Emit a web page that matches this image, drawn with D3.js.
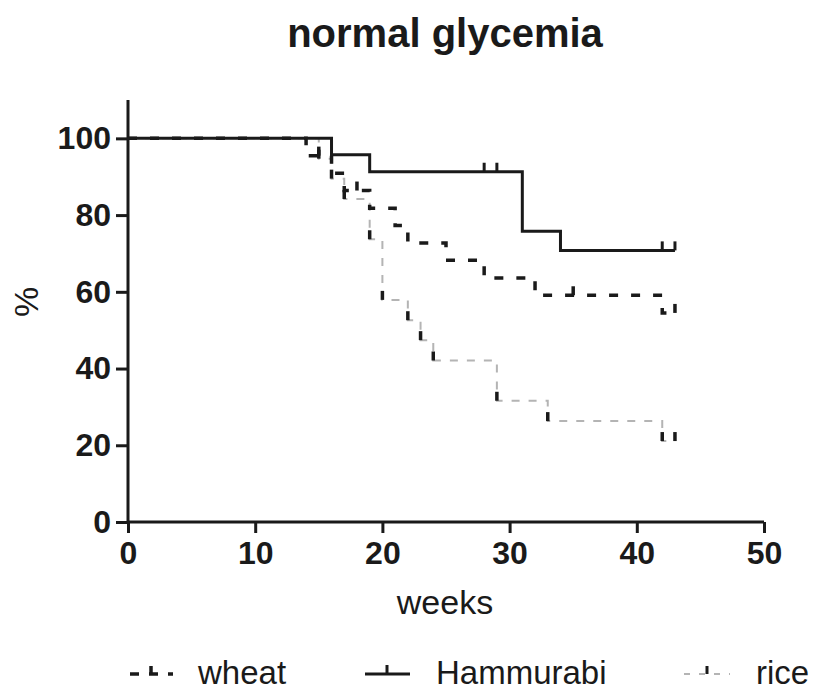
<!DOCTYPE html>
<html>
<head>
<meta charset="utf-8">
<script src="https://cdn.jsdelivr.net/npm/d3@7"></script>
<style>
  body { margin: 0; background: #fff; }
  text { font-family: "Liberation Sans", Arial, sans-serif; fill: #1a1a1a; }
</style>
</head>
<body>
<div id="chart"></div>
<script>
// Kaplan-Meier style data (weeks, % normal glycemia)
var wheatTimes = [0, 14, 16, 17, 19, 21, 22, 25, 28, 32, 42, 43];
var wheatSurv = [100, 95.5, 90.9, 86.4, 81.8, 77.3, 72.7, 68.2, 63.6, 59.1, 54.5, 54.5];
var wheatCensor = [15, 18, 35, 43];

var hamTimes = [0, 16, 19, 31, 34, 43];
var hamSurv = [100, 95.7, 91.3, 75.8, 70.8, 70.8];
var hamCensor = [28, 29, 42, 43];

var riceTimes = [0, 15, 16, 17, 19, 20, 22, 23, 24, 29, 33, 42, 43];
var riceSurv = [100, 94.7, 89.5, 84.2, 73.7, 57.9, 52.6, 47.4, 42.1, 31.6, 26.3, 21.1, 21.1];
var riceCensor = [43];

var xTicks = [0, 10, 20, 30, 40, 50];
var yTicks = [0, 20, 40, 60, 80, 100];

var Width = 813;
var Height = 690;

var svg = d3.select("#chart")
  .append("svg")
  .attr("width", Width)
  .attr("height", Height);

var x = d3.scaleLinear().domain([0, 50]).range([128, 764]);
var y = d3.scaleLinear().domain([0, 110]).range([522, 100]);

// title
svg.append("text")
  .attr("x", 445)
  .attr("y", 47)
  .attr("text-anchor", "middle")
  .attr("font-size", 40)
  .attr("font-weight", "bold")
  .text("normal glycemia");

// axes
var xAxis = d3.axisBottom(x).tickValues(xTicks).tickSize(11).tickPadding(8);
var yAxis = d3.axisLeft(y).tickValues(yTicks).tickSize(12).tickPadding(5);

var gx = svg.append("g")
  .attr("transform", "translate(0," + y(0) + ")")
  .call(xAxis);
var gy = svg.append("g")
  .attr("transform", "translate(" + x(0) + ",0)")
  .call(yAxis);

[gx, gy].forEach(function(g) {
  g.select(".domain").attr("stroke", "#1a1a1a").attr("stroke-width", 3);
  g.selectAll(".tick line").attr("stroke", "#1a1a1a").attr("stroke-width", 3);
  g.selectAll(".tick text")
    .attr("font-size", 32)
    .attr("font-weight", "bold")
    .attr("font-family", "Liberation Sans, Arial, sans-serif")
    .attr("fill", "#1a1a1a");
});
// plain axis lines, no outer ticks
gx.select(".domain").attr("d", "M" + x(0) + ",0H" + x(50));
gy.select(".domain").attr("d", "M0," + y(0) + "V" + y(110));

// axis titles
svg.append("text")
  .attr("x", 445)
  .attr("y", 614)
  .attr("text-anchor", "middle")
  .attr("font-size", 34)
  .text("weeks");

svg.append("text")
  .attr("transform", "translate(38,302) rotate(-90)")
  .attr("text-anchor", "middle")
  .attr("font-size", 34)
  .text("%");

// helpers
function toPoints(times, surv) {
  return times.map(function(t, i) { return {t: t, s: surv[i]}; });
}
function survAt(times, surv, t) {
  var s = surv[0];
  for (var i = 0; i < times.length; i++) {
    if (times[i] <= t) s = surv[i];
  }
  return s;
}
var stepLine = d3.line()
  .x(function(d) { return x(d.t); })
  .y(function(d) { return y(d.s); })
  .curve(d3.curveStepAfter);

function drawTicks(times, surv, list, color, width) {
  svg.append("g")
    .selectAll("line")
    .data(list)
    .enter()
    .append("line")
    .attr("x1", function(t) { return x(t); })
    .attr("x2", function(t) { return x(t); })
    .attr("y1", function(t) { return y(survAt(times, surv, t)); })
    .attr("y2", function(t) { return y(survAt(times, surv, t)) - 9; })
    .attr("stroke", color)
    .attr("stroke-width", width);
}

// rice (light grey dashed)
svg.append("path")
  .attr("d", stepLine(toPoints(riceTimes, riceSurv)))
  .attr("fill", "none")
  .attr("stroke", "#b4b4b4")
  .attr("stroke-width", 2)
  .attr("stroke-dasharray", "8,9");
// dark marks at each rice drop and censored point
drawTicks(riceTimes, riceSurv, riceTimes.slice(1, riceTimes.length - 1).concat(riceCensor), "#1a1a1a", 3.5);

// wheat (black dashed)
svg.append("path")
  .attr("d", stepLine(toPoints(wheatTimes, wheatSurv)))
  .attr("fill", "none")
  .attr("stroke", "#1a1a1a")
  .attr("stroke-width", 3.5)
  .attr("stroke-dasharray", "9,13");
drawTicks(wheatTimes, wheatSurv, wheatCensor, "#1a1a1a", 3.5);

// Hammurabi (solid black)
svg.append("path")
  .attr("d", stepLine(toPoints(hamTimes, hamSurv)))
  .attr("fill", "none")
  .attr("stroke", "#1a1a1a")
  .attr("stroke-width", 3);
drawTicks(hamTimes, hamSurv, hamCensor, "#1a1a1a", 3);

// legend
var legY = 674;
var legBase = 684;
var legend = svg.append("g");

// wheat
legend.append("line")
  .attr("x1", 130).attr("x2", 173).attr("y1", legY).attr("y2", legY)
  .attr("stroke", "#1a1a1a").attr("stroke-width", 3.5)
  .attr("stroke-dasharray", "9,10");
legend.append("line")
  .attr("x1", 151).attr("x2", 151).attr("y1", legY).attr("y2", legY - 8)
  .attr("stroke", "#1a1a1a").attr("stroke-width", 3.5);
legend.append("text")
  .attr("x", 198).attr("y", legBase)
  .attr("font-size", 33)
  .text("wheat");

// Hammurabi
legend.append("line")
  .attr("x1", 365).attr("x2", 410).attr("y1", legY).attr("y2", legY)
  .attr("stroke", "#1a1a1a").attr("stroke-width", 3);
legend.append("line")
  .attr("x1", 387).attr("x2", 387).attr("y1", legY).attr("y2", legY - 9)
  .attr("stroke", "#1a1a1a").attr("stroke-width", 3);
legend.append("text")
  .attr("x", 436).attr("y", legBase)
  .attr("font-size", 33)
  .text("Hammurabi");

// rice
legend.append("line")
  .attr("x1", 684).attr("x2", 730).attr("y1", legY).attr("y2", legY)
  .attr("stroke", "#b4b4b4").attr("stroke-width", 2)
  .attr("stroke-dasharray", "6,9");
legend.append("line")
  .attr("x1", 707).attr("x2", 707).attr("y1", legY).attr("y2", legY - 8)
  .attr("stroke", "#1a1a1a").attr("stroke-width", 3);
legend.append("text")
  .attr("x", 756).attr("y", legBase)
  .attr("font-size", 33)
  .text("rice");
</script>
</body>
</html>
